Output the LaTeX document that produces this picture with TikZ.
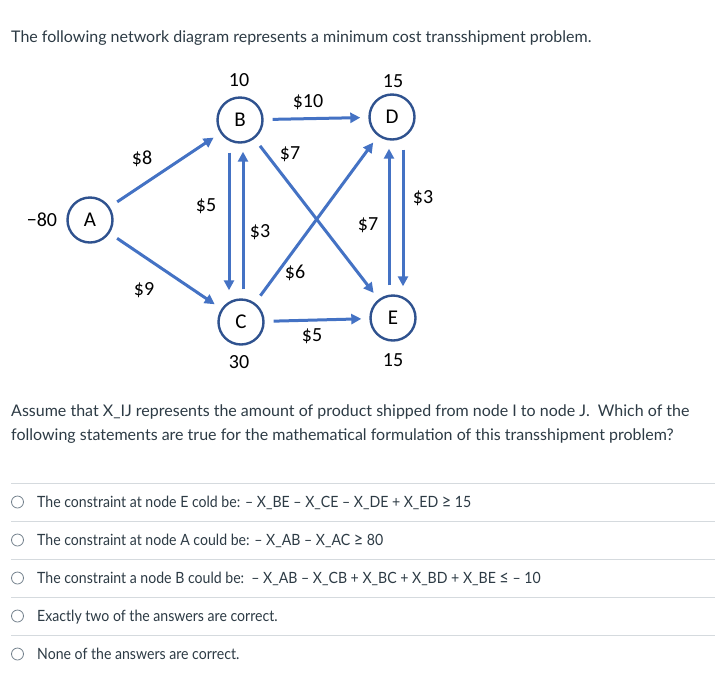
\documentclass[tikz,border=0pt]{standalone}
\usepackage{fontspec}
\setmainfont{Lato}
\newfontfamily\diagfont{Carlito}
\newfontfamily\choicefont[FakeStretch=0.91]{Lato}
\usetikzlibrary{arrows.meta}
\definecolor{arcblue}{HTML}{4472C4}
\definecolor{ringblue}{HTML}{2F528F}
\definecolor{bodytext}{HTML}{2D3B45}
\definecolor{rulegrey}{HTML}{D5DADE}
\definecolor{radiogrey}{HTML}{73818C}
\newcommand{\bigrel}[1]{{\fontsize{18}{18}\selectfont #1}}

\begin{document}
\begin{tikzpicture}[x=1pt, y=-1pt, >={Triangle[length=10pt,width=10pt]},
  station/.style={circle, draw=ringblue, line width=2.4pt, minimum size=45pt,
    inner sep=0pt, font=\diagfont\fontsize{21}{21}\selectfont},
  cost/.style={inner sep=0pt, font=\diagfont\fontsize{20}{20}\selectfont},
  flow/.style={->, draw=arcblue, line width=3pt, shorten <=9pt, shorten >=8pt},
  line/.style={anchor=base west, inner sep=0pt, text=bodytext,
    font=\fontsize{16}{18}\selectfont},
  choice/.style={line, font=\choicefont\fontsize{15.5}{17}\selectfont},
  radio/.style={circle, draw=radiogrey, line width=0.8pt, minimum size=12pt, inner sep=0pt}]
  \fill[white] (0,0) rectangle (727,673);
  \useasboundingbox (0,0) rectangle (727,673);

  \node[line] (head) at (11,42)
    {The following network diagram represents a minimum cost transshipment problem.};

  % network
  \node[station] (A) at (90,220) {A};
  \node[station] (B) at (240,120) {B};
  \node[station] (C) at (241,322) {C};
  \node[station] (D) at (392,117) {D};
  \node[station] (E) at (393,318) {E};
  \node[cost] (supA) at (42,220) {−80};
  \node[cost] (supB) at (239,80) {10};
  \node[cost] (supD) at (393,81) {15};
  \node[cost] (supC) at (239,362) {30};
  \node[cost] (supE) at (393,360) {15};

  \draw[flow] (A) -- (B);
  \draw[flow] (A) -- (C);
  \draw[flow] (B) -- (D);
  \draw[flow] (C) -- (E);
  \draw[flow] (B) -- (E);
  \draw[flow] (C) -- (D);
  \draw[flow] ([xshift=-11pt]B.south) -- ([xshift=-12pt]C.north);
  \draw[flow] ([xshift=2pt]C.north) -- ([xshift=3pt]B.south);
  \draw[flow] ([xshift=11pt]D.south) -- ([xshift=10pt]E.north);
  \draw[flow] ([xshift=-4pt]E.north) -- ([xshift=-3pt]D.south);

  \node[cost] (cAB) at (142,159) {\$8};
  \node[cost] (cAC) at (144,290) {\$9};
  \node[cost] (cBD) at (308,102) {\$10};
  \node[cost] (cCE) at (312,336) {\$5};
  \node[cost] (cBE) at (290,154) {\$7};
  \node[cost] (cCD) at (295,273) {\$6};
  \node[cost] (cBC) at (206,206) {\$5};
  \node[cost] (cCB) at (260,232) {\$3};
  \node[cost] (cDE) at (423,198) {\$3};
  \node[cost] (cED) at (368,225) {\$7};

  \node[line] (ask1) at (11,416)
    {Assume that X\_IJ represents the amount of product shipped from node I to node J.\ \ Which of the};
  \node[line] (ask2) at (11,440)
    {following statements are true for the mathematical formulation of this transshipment problem?};

  % answers
  \foreach \i in {0,...,4}{
    \draw[rulegrey, line width=1pt] (11,483+38*\i) -- (715,483+38*\i);
    \node[radio] (r\i) at (17.5,502+38*\i) {};
  }
  \node[choice] (opt1) at (37,507)
    {The constraint at node E cold be: – X\_BE – X\_CE – X\_DE + X\_ED \bigrel{≥} 15};
  \node[choice] (opt2) at (37,545)
    {The constraint at node A could be: – X\_AB – X\_AC \bigrel{≥} 80};
  \node[choice] (opt3) at (37,583)
    {The constraint a node B could be:\ \ – X\_AB – X\_CB + X\_BC + X\_BD + X\_BE \bigrel{≤} – 10};
  \node[choice] (opt4) at (37,621) {Exactly two of the answers are correct.};
  \node[choice] (opt5) at (37,659) {None of the answers are correct.};
\end{tikzpicture}
\end{document}
